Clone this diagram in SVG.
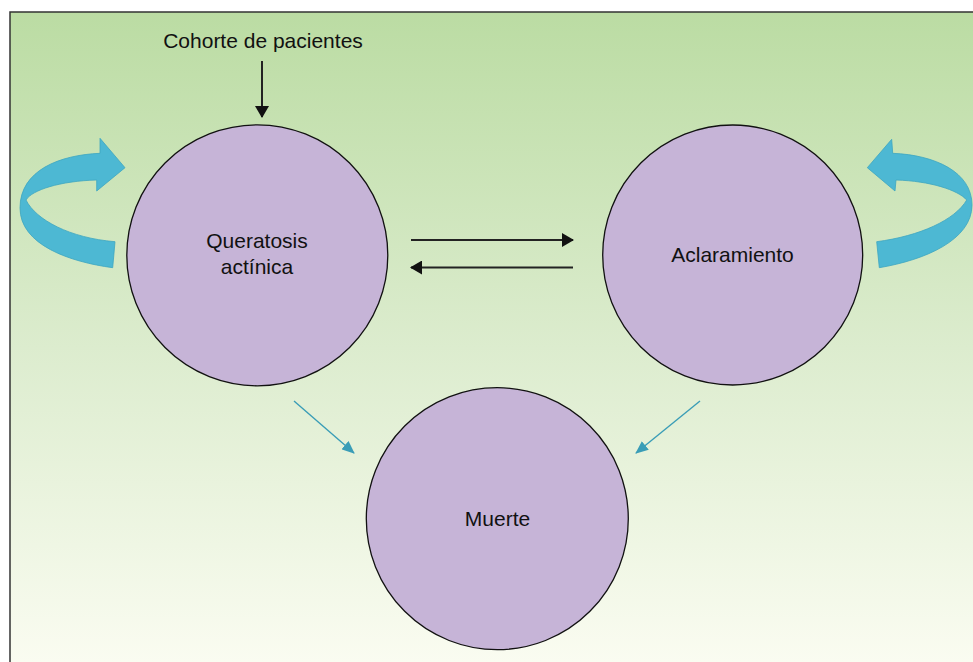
<svg xmlns="http://www.w3.org/2000/svg" width="973" height="662" viewBox="0 0 973 662">
  <defs>
    <linearGradient id="bg" x1="0" y1="0" x2="0" y2="1">
      <stop offset="0" stop-color="#bbdca3"/>
      <stop offset="0.5" stop-color="#dcecce"/>
      <stop offset="1" stop-color="#fcfdf3"/>
    </linearGradient>
    <marker id="ah" viewBox="0 0 12 14" refX="11" refY="7" markerWidth="12" markerHeight="14" markerUnits="userSpaceOnUse" orient="auto">
      <path d="M0,0 L12,7 L0,14 Z" fill="#111"/>
    </marker>
    <marker id="ah2" viewBox="0 0 13 11" refX="12" refY="5.5" markerWidth="13" markerHeight="11" markerUnits="userSpaceOnUse" orient="auto">
      <path d="M0,0 L13,5.5 L0,11 Z" fill="#3a9db7"/>
    </marker>
    <style>
      .node { fill: #c6b4d7; stroke: #111; stroke-width: 1.3; }
      .lbl { font-family: "Liberation Sans", Arial, sans-serif; font-size: 21px; fill: #111; text-anchor: middle; }
      .blk { stroke: #222; stroke-width: 2; fill: none; marker-end: url(#ah); }
      .teal { stroke: #3a9db7; stroke-width: 1.4; fill: none; marker-end: url(#ah2); }
      .loop { fill: #4db8d3; stroke: #3ea6c0; stroke-width: 0.8; }
    </style>
  </defs>
  <rect x="0" y="0" width="973" height="662" fill="#ffffff"/>
  <rect x="10" y="12" width="980" height="670" fill="url(#bg)" stroke="#333" stroke-width="1.5"/>

  <text class="lbl" x="263" y="48">Cohorte de pacientes</text>

  <g id="loop-left">
    <path class="loop" d="M112.7,267.7 C70,262 20,245 20,208 C20,170 60,155 100,153.3 L100,138.3 L125,167.7 L96.7,191 L96.7,180 C60,181 32,190 26,200 C36,220 70,238 115,241.7 Z"/>
  </g>
  <g id="loop-right">
    <path class="loop" d="M879.3,267.7 C925,260 972,240 972,205 C972,172 935,155 892.7,153.3 L891.7,139.3 L867.3,167.7 L895,191 L896,180 C930,181 958,190 966.7,200 C955,220 920,236 876.7,241.7 Z"/>
  </g>

  <g id="connectors">
    <line class="blk" x1="262" y1="61" x2="262" y2="117"/>
    <line class="blk" x1="411" y1="240" x2="573" y2="240"/>
    <line class="blk" x1="573" y1="267.5" x2="411" y2="267.5"/>
    <line class="teal" x1="294" y1="401" x2="354" y2="453"/>
    <line class="teal" x1="700" y1="401" x2="636" y2="453"/>
  </g>

  <g id="node-queratosis">
    <circle class="node" cx="257.3" cy="255.3" r="130.5"/>
    <text class="lbl" x="257" y="248">Queratosis</text>
    <text class="lbl" x="257" y="274">actínica</text>
  </g>
  <g id="node-aclaramiento">
    <circle class="node" cx="732.7" cy="255" r="130"/>
    <text class="lbl" x="732.5" y="262">Aclaramiento</text>
  </g>
  <g id="node-muerte">
    <circle class="node" cx="497.3" cy="518.7" r="131"/>
    <text class="lbl" x="497.5" y="526">Muerte</text>
  </g>
</svg>
